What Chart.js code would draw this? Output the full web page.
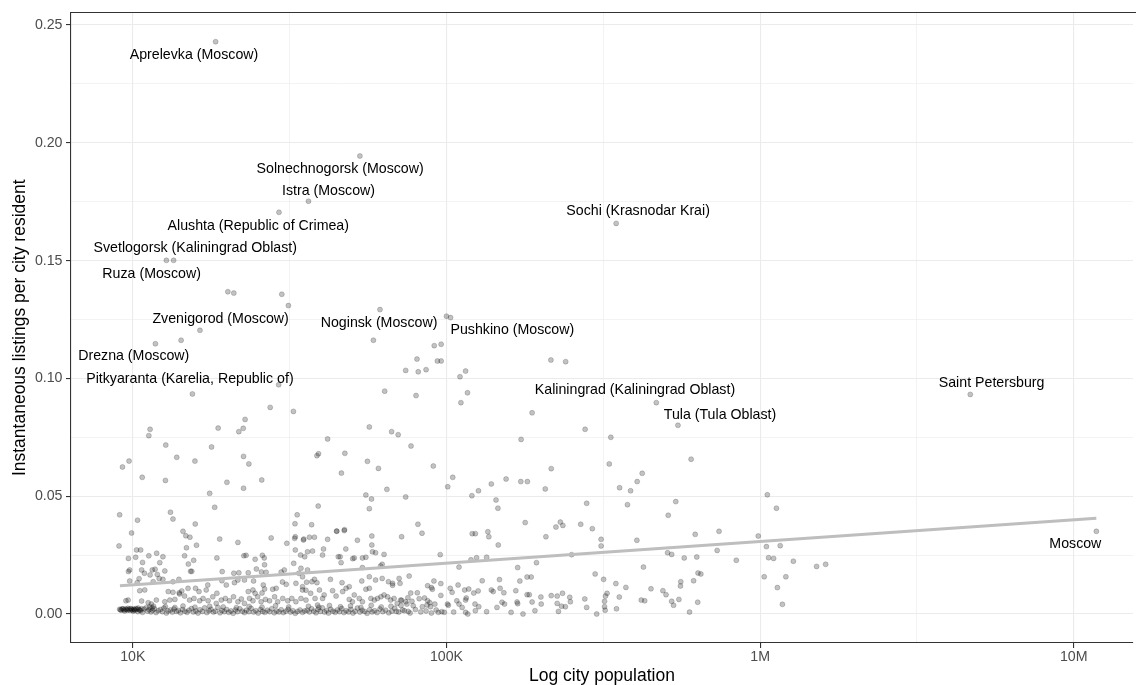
<!DOCTYPE html>
<html><head><meta charset="utf-8">
<script src="https://cdn.jsdelivr.net/npm/chart.js@4.4.1/dist/chart.umd.min.js"></script>
<style>html,body{margin:0;padding:0;background:#fff;overflow:hidden;}canvas{display:block;}</style>
</head><body>
<canvas id="c" width="1136" height="685"></canvas>
<script>
// x = log10(city population), y = instantaneous listings per city resident
const outlierPop = [4.264,4.724,4.560,4.466,5.541,4.107,4.130,4.214,4.303,4.322,4.475,4.496,4.154,4.072,4.465,4.190,4.438,4.512,4.358,4.788,4.767,5.000,5.013,4.961,4.983,4.906,4.971,4.983,4.870,4.910,4.935,5.043,5.061,4.803,4.903,5.067,5.046,5.333,5.380,5.273,5.669,5.738,6.670,7.072];
const outlierRate = [0.2429,0.1944,0.1752,0.1705,0.1658,0.1501,0.1501,0.1204,0.1368,0.1362,0.1357,0.1309,0.1162,0.1147,0.0973,0.0934,0.0877,0.0860,0.0826,0.1292,0.1162,0.1264,0.1258,0.1139,0.1145,0.1082,0.1074,0.1074,0.1034,0.1028,0.1037,0.1007,0.1031,0.0946,0.0927,0.0939,0.0897,0.1078,0.1071,0.0854,0.0897,0.0801,0.0932,0.0351];

const upperLeftPop = [4.055,4.051,4.272,4.338,4.352,4.105,4.251,4.140,4.198,4.353,4.370,3.967,3.988,4.030,4.104,4.300,4.411,4.353,4.245,4.261,3.958,4.120,4.128,4.015,4.199,4.160,3.996];
const upperLeftRate = [0.0784,0.0757,0.0789,0.0774,0.0788,0.0717,0.0709,0.0665,0.0649,0.0669,0.0637,0.0624,0.0649,0.0580,0.0567,0.0559,0.0569,0.0534,0.0512,0.0453,0.0421,0.0432,0.0403,0.0398,0.0382,0.0351,0.0344];

const upperMidPop = [4.754,4.825,4.846,4.621,4.887,4.587,4.592,4.676,4.748,4.783,4.958,4.665,4.810,5.020,5.004,4.743,4.761,4.870,4.591,4.524,4.754,4.517,4.570,4.909,4.650,4.675,4.922];
const upperMidRate = [0.0794,0.0774,0.0761,0.0743,0.0713,0.0672,0.0680,0.0682,0.0648,0.0618,0.0628,0.0598,0.0529,0.0580,0.0540,0.0505,0.0488,0.0497,0.0458,0.0421,0.0447,0.0383,0.0379,0.0381,0.0351,0.0358,0.0343];

const leftMidPop = [4.169,4.182,3.956,4.277,4.335,4.441,4.171,4.203,4.012,4.025,3.986,4.009,4.051,4.076,4.096,4.165,4.086,4.031,4.194,4.268,4.354,4.361,4.413,4.419,4.390,4.177,4.420,4.518,4.548,4.513,4.491,4.516,4.544,4.518];
const leftMidRate = [0.0332,0.0326,0.0289,0.0318,0.0304,0.0323,0.0281,0.0292,0.0272,0.0272,0.0236,0.0241,0.0247,0.0258,0.0243,0.0247,0.0218,0.0219,0.0228,0.0238,0.0247,0.0249,0.0249,0.0238,0.0232,0.0212,0.0209,0.0272,0.0243,0.0215,0.0300,0.0321,0.0314,0.0328];

const leftBandPop = [3.986,3.990,4.028,4.062,4.071,4.055,4.078,4.102,4.184,4.188,4.285,4.322,4.338,4.368,4.394,4.410,4.425,4.473,4.483,4.536,4.529,4.557,4.037];
const leftBandRate = [0.0180,0.0187,0.0187,0.0187,0.0190,0.0166,0.0168,0.0183,0.0181,0.0181,0.0180,0.0173,0.0175,0.0175,0.0191,0.0178,0.0177,0.0178,0.0187,0.0194,0.0173,0.0187,0.0173];

const leftLinePop = [4.065,4.084,4.096,4.128,4.147,4.022,4.038,4.113,4.128,4.148,4.156,4.176,4.200,4.211,4.239,4.234,4.268,4.284,4.298,4.324,4.335,4.356,4.368,4.385,4.383,4.390,4.416,4.420,4.412,4.446,4.457,4.477,4.489,4.520,4.541,4.552,3.990,4.020,4.014];
const leftLineRate = [0.0137,0.0151,0.0147,0.0137,0.0147,0.0099,0.0102,0.0095,0.0092,0.0090,0.0098,0.0109,0.0109,0.0095,0.0123,0.0102,0.0088,0.0141,0.0123,0.0133,0.0144,0.0144,0.0095,0.0140,0.0102,0.0088,0.0123,0.0106,0.0089,0.0105,0.0109,0.0136,0.0126,0.0130,0.0116,0.0101,0.0140,0.0150,0.0133];

const leftLowPop = [3.978,3.985,4.028,4.049,4.059,4.075,4.102,4.118,4.134,4.149,4.165,4.181,4.195,4.213,4.224,4.240,4.255,4.266,4.282,4.295,4.308,4.321,4.335,4.346,4.356,4.372,4.383,4.398,4.409,4.423,4.436,4.452,4.462,4.478,4.494,4.507,4.520,4.536,4.552];
const leftLowRate = [0.0056,0.0059,0.0055,0.0048,0.0042,0.0059,0.0052,0.0059,0.0062,0.0085,0.0076,0.0059,0.0066,0.0056,0.0066,0.0056,0.0073,0.0045,0.0059,0.0066,0.0056,0.0073,0.0052,0.0064,0.0045,0.0066,0.0056,0.0073,0.0052,0.0062,0.0056,0.0073,0.0052,0.0066,0.0056,0.0066,0.0052,0.0066,0.0059];

const leftFloorPop = [3.958,3.963,3.969,3.974,3.980,3.984,3.991,3.995,4.001,4.004,4.010,4.016,4.019,4.025,4.031,4.036,4.043,4.047,4.052,4.058,4.063,4.069,4.074,4.081,4.088,4.094,4.099,4.107,4.112,4.120,4.126,4.131,4.139,4.145,4.152,4.158,4.166,4.173,4.179,4.187,4.193,4.201,4.208,4.214,4.222,4.229,4.236,4.243,4.249,4.257,4.263,4.271,4.278,4.284,4.292,4.299,4.306,4.313,4.320,4.327,4.334,4.341,4.349,4.356,4.362,4.370,4.377,4.385,4.392,4.400,4.407,4.414,4.421,4.429,4.436,4.443,4.451,4.458,4.466,4.473,4.480,4.488,4.495,4.503,4.510,4.518,4.525,4.533,4.541,4.548];
const leftFloorRate = [0.0020,0.0016,0.0022,0.0013,0.0019,0.0024,0.0015,0.0021,0.0012,0.0018,0.0023,0.0010,0.0019,0.0015,0.0007,0.0021,0.0027,0.0012,0.0018,0.0009,0.0016,0.0022,0.0006,0.0014,0.0019,0.0010,0.0025,0.0004,0.0013,0.0017,0.0008,0.0021,0.0011,0.0015,0.0005,0.0019,0.0012,0.0007,0.0016,0.0023,0.0009,0.0013,0.0004,0.0018,0.0011,0.0026,0.0006,0.0014,0.0020,0.0008,0.0012,0.0028,0.0005,0.0015,0.0010,0.0019,0.0007,0.0013,0.0003,0.0017,0.0010,0.0022,0.0012,0.0006,0.0016,0.0010,0.0024,0.0008,0.0014,0.0004,0.0019,0.0011,0.0007,0.0016,0.0010,0.0022,0.0005,0.0013,0.0009,0.0018,0.0006,0.0012,0.0020,0.0008,0.0014,0.0003,0.0011,0.0017,0.0007,0.0013];

const leftFloor2Pop = [3.961,3.966,3.972,3.977,3.983,3.988,3.993,3.998,4.003,4.007,4.012,4.017,4.022,4.028,4.054,4.061,4.066,4.104,4.134,4.160,4.198,4.245,4.288,4.330,4.371,4.412,4.455,4.497];
const leftFloor2Rate = [0.0018,0.0022,0.0017,0.0021,0.0016,0.0020,0.0023,0.0017,0.0021,0.0016,0.0020,0.0025,0.0017,0.0022,0.0030,0.0026,0.0033,0.0031,0.0028,0.0034,0.0029,0.0033,0.0030,0.0027,0.0032,0.0029,0.0035,0.0030];

const centerMidPop = [4.545,4.563,4.579,4.650,4.674,4.621,4.716,4.535,4.557,4.573,4.605,4.608,4.655,4.661,4.664,4.679,4.701,4.706,4.743,4.764,4.774,4.762,4.801,4.795,4.732,4.980,4.541,4.554,4.571,4.579,4.587,4.630,4.667,4.690,4.730,4.754,4.795,4.815,4.828,4.849,4.852,4.881,4.940,4.952,4.960,4.732,4.857,4.762,4.790,4.774,4.828,4.982,4.955];
const centerMidRate = [0.0318,0.0326,0.0326,0.0352,0.0354,0.0317,0.0313,0.0250,0.0264,0.0267,0.0250,0.0276,0.0243,0.0243,0.0218,0.0276,0.0235,0.0238,0.0241,0.0264,0.0260,0.0293,0.0253,0.0211,0.0197,0.0252,0.0158,0.0135,0.0137,0.0147,0.0133,0.0147,0.0133,0.0116,0.0140,0.0158,0.0151,0.0137,0.0130,0.0151,0.0130,0.0161,0.0120,0.0112,0.0140,0.0238,0.0328,0.0331,0.0204,0.0144,0.0122,0.0129,0.0105];

const centerLowPop = [4.541,4.567,4.581,4.589,4.605,4.610,4.595,4.637,4.648,4.669,4.680,4.690,4.700,4.706,4.722,4.732,4.743,4.754,4.759,4.770,4.780,4.791,4.801,4.812,4.822,4.833,4.843,4.854,4.870,4.886,4.907,4.938,4.949,4.982,4.963,4.940,4.947,4.913,4.930,4.923,4.877,4.874,4.890,4.894,4.857];
const centerLowRate = [0.0102,0.0088,0.0066,0.0038,0.0066,0.0081,0.0102,0.0099,0.0076,0.0095,0.0109,0.0062,0.0052,0.0081,0.0066,0.0052,0.0105,0.0109,0.0066,0.0059,0.0066,0.0073,0.0081,0.0073,0.0059,0.0066,0.0045,0.0059,0.0052,0.0089,0.0090,0.0038,0.0031,0.0079,0.0042,0.0056,0.0048,0.0065,0.0068,0.0031,0.0069,0.0042,0.0054,0.0035,0.0058];

const centerFloorPop = [4.556,4.563,4.570,4.577,4.584,4.590,4.598,4.604,4.611,4.618,4.624,4.631,4.638,4.645,4.652,4.659,4.666,4.673,4.680,4.688,4.695,4.702,4.709,4.716,4.724,4.731,4.739,4.747,4.755,4.763,4.771,4.779,4.788,4.797,4.806,4.816,4.826,4.835,4.848,4.866,4.884,4.901,4.918,4.935,4.952,4.967,4.985,4.560,4.593,4.627,4.662,4.694,4.727,4.760,4.792,4.823,4.855,4.840,4.860,4.878,4.974,4.993];
const centerFloorRate = [0.0016,0.0009,0.0022,0.0012,0.0005,0.0019,0.0011,0.0026,0.0008,0.0015,0.0004,0.0020,0.0012,0.0007,0.0017,0.0010,0.0023,0.0006,0.0014,0.0009,0.0019,0.0004,0.0012,0.0025,0.0008,0.0016,0.0011,0.0003,0.0018,0.0009,0.0014,0.0006,0.0021,0.0010,0.0016,0.0005,0.0012,0.0024,0.0008,0.0014,0.0004,0.0019,0.0009,0.0013,0.0004,0.0017,0.0010,0.0033,0.0029,0.0036,0.0031,0.0034,0.0028,0.0037,0.0030,0.0033,0.0036,0.0011,0.0017,0.0011,0.0007,0.0007];

const rightLowPop = [5.003,5.006,5.023,5.033,5.040,5.012,5.018,5.037,5.040,5.078,5.096,5.128,5.058,5.071,5.087,5.101,5.063,5.061,5.068,5.091,5.103,5.128,5.114,5.143,5.149,5.171,5.183,5.169,5.185,5.177,5.225,5.227,5.257,5.264,5.273,5.221,5.234,5.227,5.257,5.270,5.287,5.282,5.244,5.206,5.301,5.302,5.334,5.353,5.370,5.353,5.357,5.379,5.367,5.393,5.395,5.441,5.447,5.479,5.474,5.501,5.512,5.507,5.504,5.504,5.506,5.540,5.551,5.542,5.572,5.621,5.632,5.628,5.652,5.690,5.700,5.718,5.724,5.741,5.801,5.775,5.747,5.746,5.788,5.802,5.811,5.798,5.758,5.705,5.718,5.863,5.924,6.013,5.399,5.092,5.050,5.161,5.061];
const rightLowRate = [0.0042,0.0037,0.0008,0.0056,0.0042,0.0109,0.0092,0.0123,0.0199,0.0230,0.0239,0.0241,0.0102,0.0106,0.0089,0.0098,0.0068,0.0007,0.0000,0.0042,0.0031,0.0010,0.0141,0.0102,0.0095,0.0109,0.0090,0.0146,0.0042,0.0050,0.0051,0.0044,0.0082,0.0082,0.0051,0.0099,0.0140,0.0197,0.0157,0.0157,0.0218,0.0014,0.0000,0.0007,0.0072,0.0042,0.0078,0.0076,0.0088,0.0045,0.0011,0.0031,0.0033,0.0071,0.0052,0.0064,0.0028,0.0000,0.0170,0.0147,0.0088,0.0076,0.0054,0.0031,0.0016,0.0129,0.0072,0.0022,0.0113,0.0059,0.0056,0.0199,0.0107,0.0099,0.0082,0.0054,0.0037,0.0062,0.0050,0.0008,0.0137,0.0119,0.0141,0.0174,0.0170,0.0242,0.0238,0.0260,0.0253,0.0270,0.0228,0.0158,0.0252,0.0014,0.0028,0.0028,0.0059];

const rightUpperPop = [5.082,5.092,5.132,5.135,5.317,5.165,5.607,5.793,5.869,5.994,5.493,5.493,5.349,5.363,5.371,5.428,5.465,5.251,5.707,5.577,5.731,5.447,5.164,5.158,5.081,5.102,5.315,5.143,5.237,5.258,5.190,5.587,5.552,5.608,5.624,5.334,5.519,5.780,5.238,5.524,5.442];
const rightUpperRate = [0.0341,0.0341,0.0349,0.0328,0.0328,0.0293,0.0313,0.0338,0.0351,0.0331,0.0317,0.0289,0.0369,0.0390,0.0376,0.0381,0.0362,0.0388,0.0419,0.0464,0.0477,0.0470,0.0449,0.0484,0.0502,0.0523,0.0531,0.0552,0.0562,0.0562,0.0573,0.0523,0.0536,0.0562,0.0597,0.0617,0.0637,0.0657,0.0741,0.0750,0.0784];

const farRightPop = [6.023,6.052,6.020,6.064,6.027,6.043,6.106,6.180,6.209,6.082,6.055,6.071];
const farRightRate = [0.0506,0.0449,0.0286,0.0290,0.0239,0.0236,0.0224,0.0202,0.0211,0.0158,0.0112,0.0041];

// linear fit line (ends)
const trendPop = [3.959, 7.072];
const trendRate = [0.0120, 0.0406];

// city labels
const labelNames = ['Aprelevka (Moscow)','Solnechnogorsk (Moscow)','Istra (Moscow)','Alushta (Republic of Crimea)','Sochi (Krasnodar Krai)','Svetlogorsk (Kaliningrad Oblast)','Ruza (Moscow)','Zvenigorod (Moscow)','Noginsk (Moscow)','Pushkino (Moscow)','Drezna (Moscow)','Pitkyaranta (Karelia, Republic of)','Kaliningrad (Kaliningrad Oblast)','Tula (Tula Oblast)','Saint Petersburg','Moscow'];
const labelPop = [4.195,4.661,4.624,4.400,5.611,4.199,4.060,4.280,4.785,5.210,4.003,4.182,5.601,5.872,6.738,7.005];
const labelRate = [0.2373,0.1889,0.1797,0.1647,0.1712,0.1552,0.1443,0.1251,0.1234,0.1205,0.1095,0.0999,0.0949,0.0845,0.0979,0.0296];

// axes
const xTickValues = [4, 5, 6, 7];
const xTickLabels = ['10K', '100K', '1M', '10M'];
const xMinorValues = [4.5, 5.5, 6.5];
const yTickValues = [0, 0.05, 0.10, 0.15, 0.20, 0.25];
const yTickLabels = ['0.00', '0.05', '0.10', '0.15', '0.20', '0.25'];
const yMinorValues = [0.025, 0.075, 0.125, 0.175, 0.225];

const allPop = [].concat(outlierPop, upperLeftPop, upperMidPop, leftMidPop, leftBandPop, leftLinePop, leftLowPop, leftFloorPop, leftFloor2Pop, centerMidPop, centerLowPop, centerFloorPop, rightLowPop, rightUpperPop, farRightPop);
const allRate = [].concat(outlierRate, upperLeftRate, upperMidRate, leftMidRate, leftBandRate, leftLineRate, leftLowRate, leftFloorRate, leftFloor2Rate, centerMidRate, centerLowRate, centerFloorRate, rightLowRate, rightUpperRate, farRightRate);
const points = allPop.map((x, i) => ({x: x, y: allRate[i]}));
const trend = trendPop.map((x, i) => ({x: x, y: trendRate[i]}));

const FONT = '"Liberation Sans", Arial, Helvetica, sans-serif';
Chart.defaults.font.family = FONT;

const isMajorX = v => xTickValues.some(t => Math.abs(t - v) < 1e-9);
const isMajorY = v => yTickValues.some(t => Math.abs(t - v) < 1e-9);

const labelPlugin = {
  id: 'cityLabels',
  afterDatasetsDraw(chart) {
    const {ctx, scales: {x, y}, chartArea} = chart;
    ctx.save();
    ctx.font = '14.2px ' + FONT;
    ctx.fillStyle = '#000000';
    ctx.textAlign = 'center';
    ctx.textBaseline = 'middle';
    labelNames.forEach((name, i) => {
      ctx.fillText(name, x.getPixelForValue(labelPop[i]), y.getPixelForValue(labelRate[i]));
    });
    // top panel border
    ctx.strokeStyle = '#333333';
    ctx.lineWidth = 1.1;
    ctx.beginPath();
    ctx.moveTo(chartArea.left, chartArea.top);
    ctx.lineTo(chartArea.right + 5, chartArea.top);
    ctx.stroke();
    ctx.restore();
  }
};

new Chart(document.getElementById('c'), {
  type: 'scatter',
  data: {
    datasets: [
      {
        data: trend, showLine: true, borderColor: '#BEBEBE', borderWidth: 3,
        pointRadius: 0, pointHoverRadius: 0, order: 0, fill: false
      },
      {
        data: points, pointRadius: 2.5, pointHoverRadius: 2.5,
        backgroundColor: 'rgba(0,0,0,0.24)', borderColor: 'rgba(0,0,0,0.3)',
        borderWidth: 0.6, order: 1
      }
    ]
  },
  options: {
    responsive: false,
    animation: false,
    layout: {padding: {top: 12.5, right: -3, bottom: 0, left: 0}},
    plugins: {legend: {display: false}, tooltip: {enabled: false}},
    scales: {
      x: {
        type: 'linear', min: 3.8029, max: 7.1885,
        afterBuildTicks: s => { s.ticks = xTickValues.concat(xMinorValues).sort((a, b) => a - b).map(v => ({value: v})); },
        afterFit: s => { s.height = 42; s.paddingRight = 0; s.paddingLeft = 0; },
        ticks: {
          autoSkip: false, maxRotation: 0, color: '#4D4D4D', padding: 1,
          font: {size: 14.2},
          callback: v => { const i = xTickValues.findIndex(t => Math.abs(t - v) < 1e-9); return i >= 0 ? xTickLabels[i] : ''; }
        },
        grid: {
          color: '#EBEBEB',
          lineWidth: c => (c.tick && isMajorX(c.tick.value)) ? 1.1 : 0.6,
          tickLength: 5, tickWidth: 1.1,
          tickColor: c => (c.tick && isMajorX(c.tick.value)) ? '#333333' : 'rgba(0,0,0,0)'
        },
        border: {display: true, color: '#333333', width: 1.1},
        title: {display: true, text: 'Log city population', color: '#000000', font: {size: 17.5, lineHeight: 1}, padding: {top: 0, bottom: 0}}
      },
      y: {
        type: 'linear', min: -0.01231, max: 0.25531,
        afterBuildTicks: s => { s.ticks = yTickValues.concat(yMinorValues).sort((a, b) => a - b).map(v => ({value: v})); },
        afterFit: s => { s.width = 71; },
        ticks: {
          autoSkip: false, color: '#4D4D4D', padding: 3.5,
          font: {size: 14.2},
          callback: v => { const i = yTickValues.findIndex(t => Math.abs(t - v) < 1e-9); return i >= 0 ? yTickLabels[i] : ''; }
        },
        grid: {
          color: '#EBEBEB',
          lineWidth: c => (c.tick && isMajorY(c.tick.value)) ? 1.1 : 0.6,
          tickLength: 5, tickWidth: 1.1,
          tickColor: c => (c.tick && isMajorY(c.tick.value)) ? '#333333' : 'rgba(0,0,0,0)'
        },
        border: {display: true, color: '#333333', width: 1.1},
        title: {display: true, text: 'Instantaneous listings per city resident', color: '#000000', font: {size: 17.5, lineHeight: 1.2}, padding: {top: 10, bottom: 0}}
      }
    }
  },
  plugins: [labelPlugin]
});
</script>
</body></html>
